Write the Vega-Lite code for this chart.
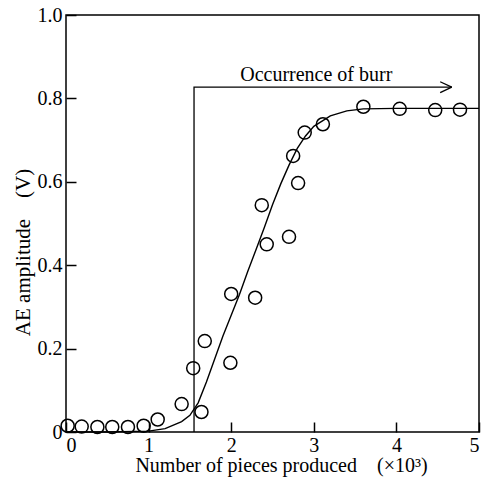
{
  "$schema": "https://vega.github.io/schema/vega-lite/v6.json",
  "width": 413,
  "height": 417,
  "autosize": {"type": "none"},
  "padding": {"left": 66, "top": 15, "right": 5, "bottom": 46},
  "background": "white",
  "config": {
    "view": {"stroke": "black", "strokeWidth": 1.5},
    "font": "Liberation Serif",
    "axis": {
      "grid": false,
      "domain": false,
      "tickColor": "black",
      "tickWidth": 1.5,
      "labelColor": "black",
      "titleColor": "black",
      "labelFont": "Liberation Serif",
      "titleFont": "Liberation Serif",
      "labelFontSize": 20,
      "titleFontSize": 20,
      "titleFontWeight": "normal"
    }
  },
  "datasets": {
    "points": [
      {"x": 0.02, "y": 0.015}, {"x": 0.19, "y": 0.013}, {"x": 0.38, "y": 0.012},
      {"x": 0.56, "y": 0.012}, {"x": 0.75, "y": 0.012}, {"x": 0.94, "y": 0.015},
      {"x": 1.11, "y": 0.03}, {"x": 1.40, "y": 0.067}, {"x": 1.54, "y": 0.153},
      {"x": 1.64, "y": 0.048}, {"x": 1.68, "y": 0.218}, {"x": 1.99, "y": 0.166},
      {"x": 2.0, "y": 0.331}, {"x": 2.29, "y": 0.322}, {"x": 2.37, "y": 0.544},
      {"x": 2.43, "y": 0.45}, {"x": 2.70, "y": 0.468}, {"x": 2.75, "y": 0.662},
      {"x": 2.81, "y": 0.597}, {"x": 2.89, "y": 0.718}, {"x": 3.11, "y": 0.738},
      {"x": 3.60, "y": 0.78}, {"x": 4.04, "y": 0.775}, {"x": 4.47, "y": 0.772},
      {"x": 4.77, "y": 0.773}
    ],
    "curve": [
      {"x": 0.0, "y": 0.0}, {"x": 0.5, "y": 0.0}, {"x": 1.0, "y": 0.002},
      {"x": 1.2, "y": 0.008}, {"x": 1.4, "y": 0.025}, {"x": 1.5, "y": 0.04},
      {"x": 1.6, "y": 0.07}, {"x": 1.7, "y": 0.12}, {"x": 1.8, "y": 0.175},
      {"x": 1.9, "y": 0.23}, {"x": 2.0, "y": 0.28}, {"x": 2.1, "y": 0.33},
      {"x": 2.2, "y": 0.385}, {"x": 2.3, "y": 0.437}, {"x": 2.4, "y": 0.49},
      {"x": 2.5, "y": 0.545}, {"x": 2.6, "y": 0.595}, {"x": 2.7, "y": 0.64},
      {"x": 2.8, "y": 0.68}, {"x": 2.9, "y": 0.71}, {"x": 3.0, "y": 0.733},
      {"x": 3.2, "y": 0.758}, {"x": 3.4, "y": 0.77}, {"x": 3.6, "y": 0.775},
      {"x": 4.0, "y": 0.776}, {"x": 5.0, "y": 0.776}
    ],
    "burr": [
      {"i": 0, "x": 1.55, "y": 0.0},
      {"i": 1, "x": 1.55, "y": 0.827},
      {"i": 2, "x": 4.67, "y": 0.827}
    ],
    "arrow": [
      {"x": 4.53, "y": 0.84, "x2": 4.67, "y2": 0.827},
      {"x": 4.53, "y": 0.814, "x2": 4.67, "y2": 0.827}
    ],
    "label": [
      {"x": 3.03, "y": 0.842, "t": "Occurrence of burr"}
    ]
  },
  "layer": [
    {
      "data": {"name": "curve"},
      "mark": {"type": "line", "color": "black", "strokeWidth": 1.4},
      "encoding": {
        "x": {
          "field": "x", "type": "quantitative",
          "scale": {"domain": [0, 5], "nice": false},
          "axis": {
            "values": [0, 1, 2, 3, 4, 5],
            "tickSize": -10,
            "labelPadding": 13,
            "format": "d",
            "title": "Number of pieces produced\u00a0\u00a0\u00a0\u00a0(×10³)",
            "titleX": 215,
            "titleY": 39,
            "titleAlign": "center",
            "titleBaseline": "alphabetic"
          }
        },
        "y": {
          "field": "y", "type": "quantitative",
          "scale": {"domain": [0, 1], "nice": false},
          "axis": {
            "values": [0, 0.2, 0.4, 0.6, 0.8, 1.0],
            "tickSize": -10,
            "labelPadding": 14,
            "labelExpr": "datum.value == 0 ? '0' : format(datum.value, '.1f')",
            "title": "AE amplitude\u00a0\u00a0\u00a0\u00a0(V)",
            "titleFontSize": 21,
            "titleY": 237,
            "titleX": -43,
            "titleAlign": "center",
            "titleBaseline": "middle"
          }
        }
      }
    },
    {
      "data": {"name": "burr"},
      "mark": {"type": "line", "color": "black", "strokeWidth": 1.3},
      "encoding": {
        "x": {"field": "x", "type": "quantitative"},
        "y": {"field": "y", "type": "quantitative"},
        "order": {"field": "i"}
      }
    },
    {
      "data": {"name": "arrow"},
      "mark": {"type": "rule", "color": "black", "strokeWidth": 1.3},
      "encoding": {
        "x": {"field": "x", "type": "quantitative"},
        "y": {"field": "y", "type": "quantitative"},
        "x2": {"field": "x2"},
        "y2": {"field": "y2"}
      }
    },
    {
      "data": {"name": "points"},
      "mark": {"type": "point", "shape": "circle", "filled": false, "color": "black", "strokeWidth": 1.5, "size": 170, "opacity": 1},
      "encoding": {
        "x": {"field": "x", "type": "quantitative"},
        "y": {"field": "y", "type": "quantitative"}
      }
    },
    {
      "data": {"name": "label"},
      "mark": {"type": "text", "font": "Liberation Serif", "fontSize": 20, "color": "black", "baseline": "alphabetic", "align": "center"},
      "encoding": {
        "x": {"field": "x", "type": "quantitative"},
        "y": {"field": "y", "type": "quantitative"},
        "text": {"field": "t"}
      }
    }
  ]
}
